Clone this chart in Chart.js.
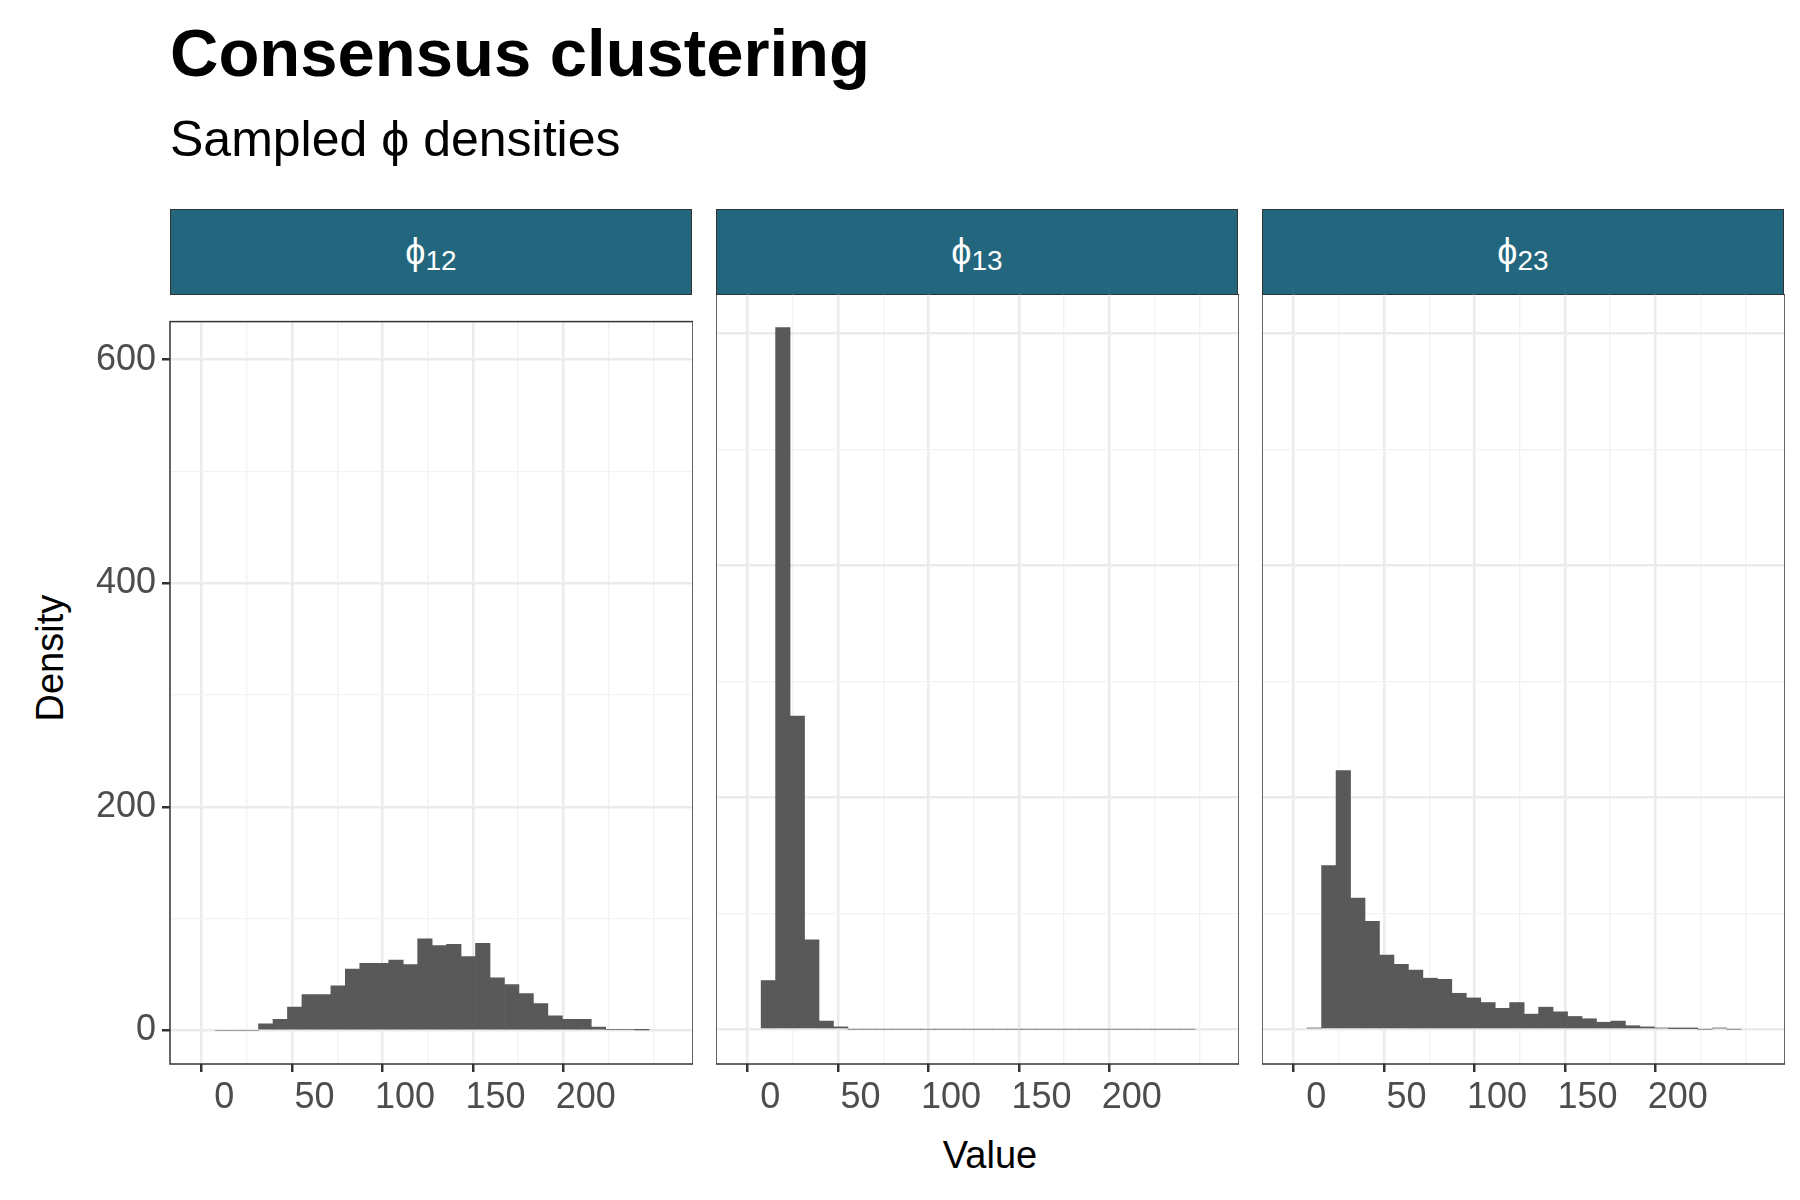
<!DOCTYPE html>
<html><head><meta charset="utf-8">
<script src="https://cdn.jsdelivr.net/npm/chart.js@4.4.1/dist/chart.umd.min.js"></script>
<style>
body{margin:0;width:1800px;height:1200px;background:#fff;font-family:"Liberation Sans",Arial,sans-serif;position:relative;overflow:hidden}
.abs{position:absolute}
.strip{position:absolute;top:209px;height:84px;width:520px;background:#22677e;border:1.5px solid #333;color:#fff;font-size:36px;text-align:center;line-height:84px}
.strip sub{font-size:28px;vertical-align:-6px}
</style></head><body>
<div class="abs" style="left:170px;top:14px;font-size:67px;font-weight:bold">Consensus clustering</div>
<div class="abs" style="left:170px;top:110px;font-size:50px">Sampled &#981; densities</div>
<div class="abs" style="left:10px;top:660px;width:80px;text-align:center;font-size:38px;transform:rotate(-90deg);transform-origin:center;">Density</div>
<div class="abs" style="left:0;width:1800px;top:1134px;text-align:center;padding-left:180px;box-sizing:border-box;font-size:38px;">Value</div>
<div class="strip" style="left:170px">&#981;<sub>12</sub></div>
<div class="strip" style="left:716px">&#981;<sub>13</sub></div>
<div class="strip" style="left:1262px">&#981;<sub>23</sub></div>
<div class="abs" style="left:70px;top:294px;width:623px;height:840px"><canvas id="c0"></canvas></div>
<div class="abs" style="left:716px;top:294px;width:523px;height:840px"><canvas id="c1"></canvas></div>
<div class="abs" style="left:1262px;top:294px;width:523px;height:840px"><canvas id="c2"></canvas></div>
<script>
// bin centres (binwidth 8, first bin -5..3)
const binCentres = Array.from({length:30},(_, k)=>-1+8*k);
const phi12 = [0,0,0,6,10,21,32,32,40,55,60,60,63,59,82,76,77,66,78,47,41,33,24,13,10,10,3,1,1,0.5];
const phi13 = [42,605,270,77,7,2,0,0,0,0,0,0,0,0,0,0,0,0,0,0,0,0,0,0,0,0,0,0,0,0];
const phi23 = [1,141,223,113,93,64,56,51,44,43,31,27,23,18,23,13,19,15,11,9,6,7,3,2,1,0.5,0.5,0,1,0];
const xTicks = [0,50,100,150,200];
const yTicks = [0,200,400,600];
const series = [phi12, phi13, phi23];

const border = {id:'border',afterDraw(c){const a=c.chartArea,x=c.ctx;x.save();x.strokeStyle='#333';x.lineWidth=1.5;x.strokeRect(a.left,a.top,a.right-a.left,a.bottom-a.top);x.restore();}};
series.forEach((vals,i)=>{
  new Chart(document.getElementById('c'+i),{
    type:'bar',
    data:{datasets:[{data:binCentres.map((x,k)=>({x,y:vals[k]})),backgroundColor:'#595959',borderWidth:0,barPercentage:1,categoryPercentage:1}]},
    options:{responsive:true,maintainAspectRatio:false,animation:false,
      layout:{padding:0},
      plugins:{legend:{display:false},tooltip:{enabled:false}},
      scales:{
        x:{type:'linear',min:-15.5,max:244.8,
          afterBuildTicks(s){s.ticks=[0,25,50,75,100,125,150,175,200,225].map(v=>({value:v}));},
          afterFit(s){s.height=70;},
          ticks:{autoSkip:false,maxRotation:0,color:'#4d4d4d',font:{size:36,family:'Liberation Sans'},padding:4,
            callback:v=>xTicks.includes(v)?v:''},
          grid:{color:c=>c.tick&&xTicks.includes(c.tick.value)?'#ebebeb':'#f2f2f2',lineWidth:c=>c.tick&&xTicks.includes(c.tick.value)?2.5:1.3,
            tickColor:c=>c.tick&&xTicks.includes(c.tick.value)?'#333':'rgba(0,0,0,0)',tickLength:8},
          border:{display:false}},
        y:{min:-30,max:634,
          afterBuildTicks(s){s.ticks=[0,100,200,300,400,500,600].map(v=>({value:v}));},
          afterFit(s){s.width=i===0?100:0;},
          ticks:{display:i===0,autoSkip:false,color:'#4d4d4d',font:{size:36,family:'Liberation Sans'},padding:6,
            callback:v=>yTicks.includes(v)?v:''},
          grid:{color:c=>c.tick&&yTicks.includes(c.tick.value)?'#ebebeb':'#f2f2f2',lineWidth:c=>c.tick&&yTicks.includes(c.tick.value)?2.5:1.3,
            tickColor:c=>i===0&&c.tick&&yTicks.includes(c.tick.value)?'#333':'rgba(0,0,0,0)',tickLength:i===0?8:0},
          border:{display:false}}
      }},
    plugins:[border]
  });
});
</script>
</body></html>
